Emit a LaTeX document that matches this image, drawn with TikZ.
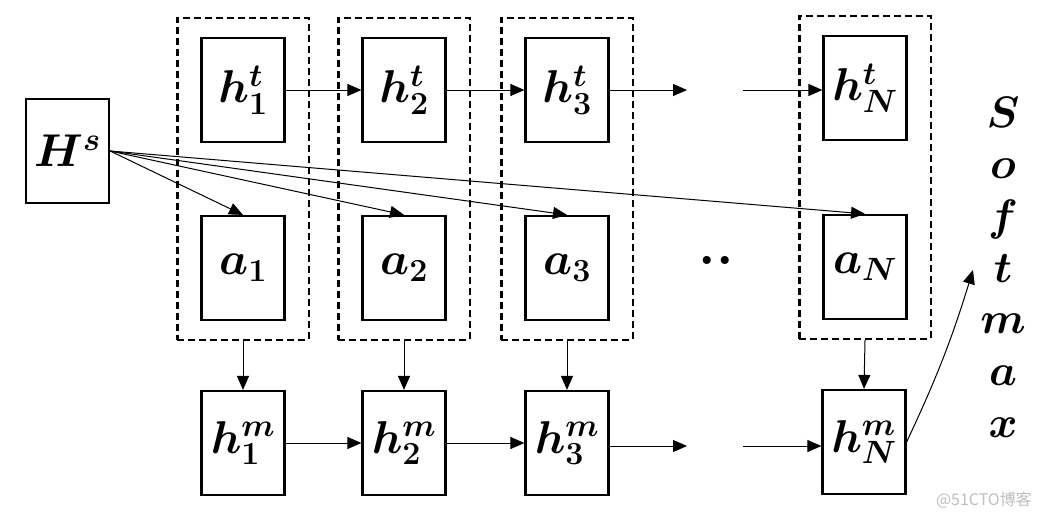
\RequirePackage{fix-cm}
\documentclass[tikz,border=0pt]{standalone}
\usepackage{bm}
\usepackage{fontspec}
\newfontfamily\cjk{Noto Sans CJK SC}
\usetikzlibrary{arrows.meta,fit}
\tikzset{
  cell/.style={draw, line width=2.2pt, minimum width=83pt, minimum height=104pt, inner sep=0pt, font=\fontsize{46}{50}\selectfont},
  group/.style={draw, dashed, dash pattern=on 7pt off 4pt, line width=2.2pt, inner xsep=23pt, inner ysep=19pt},
  link/.style={line width=1pt, -{Triangle[length=14pt,width=12pt]}},
  letter/.style={anchor=base, font=\fontsize{44}{50}\selectfont, inner sep=0pt}
}
\begin{document}
\begin{tikzpicture}[x=1pt,y=-1pt]
\useasboundingbox (0,0) rectangle (1040,520);
% source
\node[cell] (Hs) at (67.5,151) {$\bm{H^s}$};
% top row
\node[cell] (t1) at (243,90) {$\bm{h^t_1}$};
\node[cell] (t2) at (404,90) {$\bm{h^t_2}$};
\node[cell] (t3) at (567,90) {$\bm{h^t_3}$};
\node[cell] (tN) at (865,88) {$\bm{h^t_N}$};
% attention row
\node[cell] (a1) at (243,268) {$\bm{a_1}$};
\node[cell] (a2) at (404,268) {$\bm{a_2}$};
\node[cell] (a3) at (567,268) {$\bm{a_3}$};
\node[cell] (aN) at (865,267) {$\bm{a_N}$};
% bottom row
\node[cell] (m1) at (243,443) {$\bm{h^m_1}$};
\node[cell] (m2) at (404,443) {$\bm{h^m_2}$};
\node[cell] (m3) at (567,443) {$\bm{h^m_3}$};
\node[cell] (mN) at (864,442) {$\bm{h^m_N}$};
% dashed groups
\node[group, fit=(t1)(a1)] (g1) {};
\node[group, fit=(t2)(a2)] (g2) {};
\node[group, fit=(t3)(a3)] (g3) {};
\node[group, fit=(tN)(aN)] (gN) {};
% ellipsis
\node[font=\fontsize{56}{60}\selectfont\bfseries, inner sep=0pt] (dots) at (716,260) {..};
% free ends of the broken chains
\coordinate (te) at (687,90);
\coordinate (ts) at (743,90);
\coordinate (me) at (687,446);
\coordinate (ms) at (743,446);
\coordinate (smx) at (973,270);
% top chain
\draw[link] (t1) -- (t2);
\draw[link] (t2) -- (t3);
\draw[link] (t3.east) -- (te);
\draw[link] (ts) -- (tN.west |- ts);
% bottom chain
\draw[link] (m1) -- (m2);
\draw[link] (m2) -- (m3);
\draw[link] (m3.east |- me) -- (me);
\draw[link] (ms) -- (mN.west |- ms);
% source to attention
\draw[link] (Hs.east) -- (a1.north);
\draw[link] (Hs.east) -- (a2.north);
\draw[link] (Hs.east) -- (a3.north);
\draw[link] (Hs.east) -- (aN.north);
% groups to memory
\draw[link] (g1.south) -- (m1.north);
\draw[link] (g2.south) -- (m2.north);
\draw[link] (g3.south) -- (m3.north);
\draw[link] (gN.south) -- (mN.north);
% to softmax
\draw[link] (mN.east) to[bend right=4] (smx);
% Softmax label
\foreach \c [count=\i] in {S,o,f,t,m,a,x}
  \node[letter] (sm\i) at (1003,{127+51.7*(\i-1)}) {$\bm{\c}$};
% watermark
\node[font=\cjk\fontsize{16}{18}\selectfont, text=black!25, anchor=east, inner sep=0pt] (wm) at (1032,500) {@51CTO博客};
\end{tikzpicture}
\end{document}
